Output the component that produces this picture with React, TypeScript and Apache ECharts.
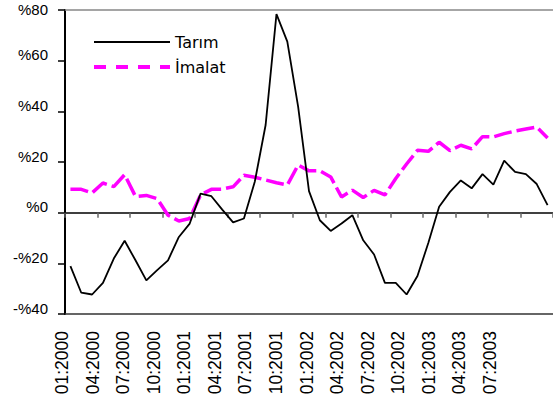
import React, { useEffect, useRef } from 'react';
import * as echarts from 'echarts';

const months = [
  '01:2000', '02:2000', '03:2000', '04:2000', '05:2000', '06:2000', '07:2000', '08:2000', '09:2000', '10:2000', '11:2000', '12:2000',
  '01:2001', '02:2001', '03:2001', '04:2001', '05:2001', '06:2001', '07:2001', '08:2001', '09:2001', '10:2001', '11:2001', '12:2001',
  '01:2002', '02:2002', '03:2002', '04:2002', '05:2002', '06:2002', '07:2002', '08:2002', '09:2002', '10:2002', '11:2002', '12:2002',
  '01:2003', '02:2003', '03:2003', '04:2003', '05:2003', '06:2003', '07:2003', '08:2003', '09:2003',
];

const tickLabels = [
  '01:2000', '04:2000', '07:2000', '10:2000', '01:2001', '04:2001', '07:2001', '10:2001',
  '01:2002', '04:2002', '07:2002', '10:2002', '01:2003', '04:2003', '07:2003',
];

const yTickLabels = ['-%40', '-%20', '%0', '%20', '%40', '%60', '%80'];

const tarim = [
  -21.1, -31.6, -32.3, -27.7, -18.1, -11.1, -18.8, -26.7, -22.7, -18.8, -9.6, -4.3,
  7.5, 6.5, 1.2, -3.8, -2.3, 12.2, 34.6, 78.4, 67.5, 41.8, 8.5, -3.0,
  -7.2, -4.3, -1.0, -10.9, -16.5, -27.7, -27.7, -32.3, -25.0, -12.0, 2.3, 8.2,
  12.7, 9.6, 15.2, 11.1, 20.5, 16.1, 15.2, 11.3, 3.0,
];

const imalat = [
  9.2, 9.2, 7.8, 11.7, 10.3, 15.0, 6.4, 6.8, 5.5, -1.0, -3.3, -2.3,
  7.0, 9.2, 9.3, 10.2, 14.8, 14.0, 12.9, 11.8, 10.9, 18.8, 16.5, 16.5,
  14.1, 6.2, 8.9, 6.0, 8.8, 7.0, 13.5, 19.2, 24.6, 24.2, 27.8, 24.5,
  26.6, 25.2, 30.0, 29.9, 31.2, 32.2, 33.0, 33.8, 29.5,
];

const seriesNames = ['Tarım', 'İmalat'];

export default function App() {
  const ref = useRef<HTMLDivElement>(null);
  useEffect(() => {
    const chart = echarts.init(ref.current!, null, { renderer: 'svg' });
    const labelFont = { fontFamily: 'Liberation Sans, Arial', fontSize: 15, color: '#000' };
    chart.setOption({
      animation: false,
      backgroundColor: '#ffffff',
      legend: {
        orient: 'vertical',
        left: 92,
        top: 33,
        padding: 0,
        itemGap: 7,
        itemWidth: 76,
        itemHeight: 18,
        textStyle: { fontFamily: 'DejaVu Sans', fontSize: 16, color: '#000', lineHeight: 18 },
        data: [
          {
            name: seriesNames[0],
            itemStyle: { opacity: 0 },
            lineStyle: { color: '#000', width: 2, type: 'solid', opacity: 1 },
          },
          {
            name: seriesNames[1],
            itemStyle: { opacity: 0 },
            lineStyle: { color: '#FF00FF', width: 4, type: [12, 10], opacity: 1 },
          },
        ],
      },
      grid: [
        { left: 65, right: 0, top: 10, bottom: 92, containLabel: false, outerBoundsMode: 'none' },
        { left: 62, right: 63, top: 10, bottom: 92, containLabel: false, outerBoundsMode: 'none' },
      ],
      xAxis: [
        {
          type: 'category', gridIndex: 0, data: months, boundaryGap: true,
          axisLine: { show: true, onZero: false, lineStyle: { color: '#333', width: 1.5 } },
          axisTick: { show: false }, axisLabel: { show: false }, splitLine: { show: false },
        },
        {
          type: 'value', gridIndex: 0, min: 0, max: 15, interval: 1, position: 'bottom',
          axisLine: { show: true, onZero: true, lineStyle: { color: '#000', width: 1.5 } },
          axisTick: { show: true, length: 5, lineStyle: { color: '#666', width: 1.5 } },
          axisLabel: { show: false }, splitLine: { show: false },
        },
        {
          type: 'value', gridIndex: 0, min: 0, max: 15, position: 'top',
          axisLine: { show: true, onZero: false, lineStyle: { color: '#888', width: 1.5 } },
          axisTick: { show: false }, axisLabel: { show: false }, splitLine: { show: false },
        },
        {
          type: 'category', gridIndex: 1, data: tickLabels, boundaryGap: false, position: 'bottom',
          axisLine: { show: false }, axisTick: { show: false }, splitLine: { show: false },
          axisLabel: {
            rotate: 90, interval: 0, margin: 17,
            fontFamily: 'Liberation Sans, Arial', fontSize: 17.5, color: '#000',
          },
        },
      ],
      yAxis: [
        {
          type: 'value', gridIndex: 0, min: -40, max: 80, interval: 20,
          axisLine: { show: true, onZero: false, lineStyle: { color: '#000', width: 2 } },
          axisTick: { show: true, length: 7, lineStyle: { color: '#000', width: 1.5 } },
          axisLabel: {
            formatter: (_v: number, i: number) =>
              '{' + (i === yTickLabels.length - 1 ? 'top' : 't') + '|' + (yTickLabels[i] ?? '') + '}',
            margin: 17,
            verticalAlign: 'bottom',
            rich: {
              t: { ...labelFont, lineHeight: 12 },
              top: { ...labelFont, lineHeight: 2 },
            },
          },
          splitLine: { show: false },
        },
        { type: 'value', gridIndex: 1, show: false, min: 0, max: 1 },
      ],
      series: [
        {
          name: seriesNames[1], type: 'line', xAxisIndex: 0, yAxisIndex: 0, data: imalat,
          symbol: 'none', z: 2,
          lineStyle: { color: '#FF00FF', width: 3.5, type: [18, 5] },
          itemStyle: { color: '#FF00FF' },
        },
        {
          name: seriesNames[0], type: 'line', xAxisIndex: 0, yAxisIndex: 0, data: tarim,
          symbol: 'none', z: 3,
          lineStyle: { color: '#000', width: 1.8 },
          itemStyle: { color: '#000' },
        },
      ],
    });
    return () => chart.dispose();
  }, []);
  return (
    <div
      ref={ref}
      style={{ position: 'fixed', left: 0, top: 0, width: 553, height: 406, background: '#fff' }}
    />
  );
}
